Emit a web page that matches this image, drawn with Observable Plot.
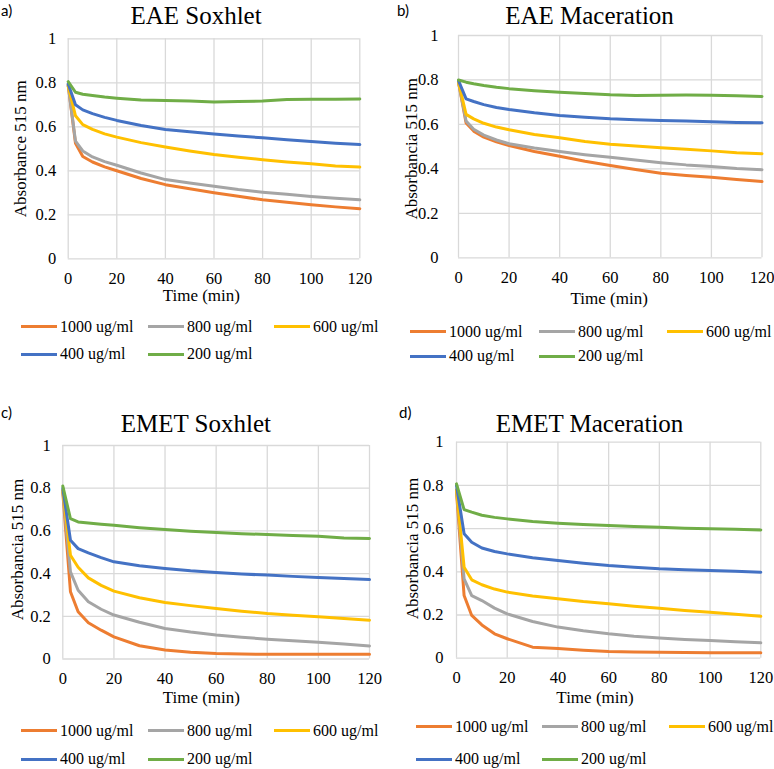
<!DOCTYPE html>
<html><head><meta charset="utf-8">
<script src="https://cdn.jsdelivr.net/npm/d3@7"></script>
<script src="https://cdn.jsdelivr.net/npm/@observablehq/plot@0.6"></script>
<style>
html,body{margin:0;padding:0;background:#fff;}
#root{position:relative;width:774px;height:769px;overflow:hidden;background:#fff;}
.panel{position:absolute;}
.panel svg{font-family:"Liberation Serif",serif;}
.panel svg text{font-family:"Liberation Serif",serif;}
.leg{position:absolute;display:flex;align-items:center;height:16px;font-family:"Liberation Serif",serif;font-size:16px;line-height:16px;color:#000;white-space:nowrap;}
.sw{display:inline-block;width:36px;height:3px;margin-right:3px;}
.tag{position:absolute;font-family:Lato,"Open Sans",sans-serif;font-size:15px;line-height:18px;color:#000;}
</style></head><body><div id="root"></div>
<script>
// ---------- data ----------
const seriesNames = ["1000 ug/ml", "800 ug/ml", "600 ug/ml", "400 ug/ml", "200 ug/ml"];
const seriesColors = ["#ED7D31", "#A5A5A5", "#FFC000", "#4472C4", "#70AD47"];
const time = [0, 3, 6, 10, 15, 20, 30, 40, 50, 60, 70, 80, 90, 100, 110, 120];
const xTicks = [0, 20, 40, 60, 80, 100, 120];
const yTicks = [0, 0.2, 0.4, 0.6, 0.8, 1];
const xLabel = "Time (min)";
const titles = ["EAE Soxhlet", "EAE Maceration", "EMET Soxhlet", "EMET Maceration"];
const tags = ["a)", "b)", "c)", "d)"];
const yLabels = ["Absorbance 515 nm", "Absorbancia 515 nm", "Absorbancia 515 nm", "Absorbancia 515 nm"];

// a) EAE Soxhlet
const eaeSox1000 = [0.79, 0.525, 0.465, 0.44, 0.418, 0.40, 0.365, 0.337, 0.318, 0.30, 0.284, 0.268, 0.257, 0.246, 0.236, 0.228];
const eaeSox800  = [0.79, 0.535, 0.49, 0.463, 0.442, 0.425, 0.39, 0.36, 0.345, 0.33, 0.315, 0.303, 0.293, 0.283, 0.275, 0.268];
const eaeSox600  = [0.785, 0.65, 0.61, 0.588, 0.568, 0.553, 0.528, 0.508, 0.49, 0.474, 0.462, 0.45, 0.44, 0.432, 0.422, 0.417];
const eaeSox400  = [0.795, 0.70, 0.677, 0.66, 0.643, 0.629, 0.606, 0.588, 0.578, 0.567, 0.558, 0.55, 0.541, 0.533, 0.525, 0.519];
const eaeSox200  = [0.805, 0.757, 0.748, 0.742, 0.735, 0.73, 0.722, 0.72, 0.717, 0.713, 0.715, 0.717, 0.724, 0.725, 0.725, 0.726];
// b) EAE Maceration
const eaeMac1000 = [0.79, 0.606, 0.57, 0.543, 0.522, 0.505, 0.478, 0.457, 0.434, 0.415, 0.397, 0.38, 0.37, 0.362, 0.352, 0.343];
const eaeMac800  = [0.79, 0.615, 0.578, 0.552, 0.53, 0.513, 0.494, 0.478, 0.464, 0.452, 0.44, 0.428, 0.418, 0.411, 0.402, 0.396];
const eaeMac600  = [0.79, 0.645, 0.625, 0.605, 0.588, 0.576, 0.555, 0.54, 0.523, 0.511, 0.503, 0.495, 0.488, 0.481, 0.473, 0.468];
const eaeMac400  = [0.797, 0.715, 0.703, 0.689, 0.676, 0.667, 0.652, 0.64, 0.632, 0.625, 0.621, 0.618, 0.615, 0.612, 0.609, 0.607];
const eaeMac200  = [0.80, 0.79, 0.783, 0.775, 0.767, 0.761, 0.752, 0.745, 0.739, 0.733, 0.73, 0.731, 0.732, 0.731, 0.729, 0.726];
// c) EMET Soxhlet
const emetSox1000 = [0.78, 0.315, 0.221, 0.17, 0.135, 0.104, 0.062, 0.042, 0.032, 0.026, 0.023, 0.022, 0.022, 0.022, 0.022, 0.022];
const emetSox800  = [0.79, 0.408, 0.322, 0.268, 0.233, 0.206, 0.172, 0.143, 0.126, 0.112, 0.102, 0.093, 0.085, 0.078, 0.07, 0.061];
const emetSox600  = [0.79, 0.486, 0.43, 0.38, 0.345, 0.318, 0.287, 0.265, 0.25, 0.237, 0.224, 0.213, 0.205, 0.198, 0.19, 0.182];
const emetSox400  = [0.80, 0.556, 0.517, 0.497, 0.475, 0.455, 0.437, 0.424, 0.413, 0.405, 0.398, 0.393, 0.387, 0.382, 0.377, 0.372];
const emetSox200  = [0.81, 0.657, 0.642, 0.637, 0.631, 0.626, 0.615, 0.606, 0.598, 0.592, 0.587, 0.583, 0.579, 0.575, 0.567, 0.564];
// d) EMET Maceration
const emetMac1000 = [0.77, 0.29, 0.198, 0.154, 0.113, 0.09, 0.051, 0.045, 0.037, 0.031, 0.029, 0.028, 0.026, 0.025, 0.025, 0.025];
const emetMac800  = [0.78, 0.367, 0.29, 0.267, 0.232, 0.205, 0.17, 0.144, 0.127, 0.113, 0.102, 0.094, 0.087, 0.082, 0.076, 0.071];
const emetMac600  = [0.78, 0.421, 0.363, 0.34, 0.32, 0.306, 0.288, 0.275, 0.262, 0.252, 0.241, 0.231, 0.221, 0.213, 0.203, 0.194];
const emetMac400  = [0.80, 0.576, 0.537, 0.51, 0.494, 0.483, 0.465, 0.452, 0.44, 0.429, 0.421, 0.414, 0.41, 0.406, 0.402, 0.398];
const emetMac200  = [0.807, 0.688, 0.676, 0.662, 0.652, 0.645, 0.633, 0.625, 0.619, 0.614, 0.61, 0.606, 0.602, 0.599, 0.597, 0.594];

const panelValues = [
  [eaeSox1000, eaeSox800, eaeSox600, eaeSox400, eaeSox200],
  [eaeMac1000, eaeMac800, eaeMac600, eaeMac400, eaeMac200],
  [emetSox1000, emetSox800, emetSox600, emetSox400, emetSox200],
  [emetMac1000, emetMac800, emetMac600, emetMac400, emetMac200]
];

// ---------- layout (absolute page px) ----------
const layout = [
  {left: 0, top: 0, w: 387, h: 310, L: 67.7, R: 359.3, T: 38.3, B: 258.3, yPad: 12,
   tag: [1, 1], title: [195.5, 15], xl: [200.8, 295.3], yl: [20.5, 148.3],
   legX: [21, 148, 274], legY: [326.7, 354]},
  {left: 387, top: 0, w: 387, h: 310, L: 458, R: 761.5, T: 35, B: 257.3, yPad: 20,
   tag: [397, 1], title: [589, 15.3], xl: [608.7, 298.3], yl: [411.5, 148.3],
   legX: [410, 539, 667], legY: [331.7, 356]},
  {left: 0, top: 385, w: 387, h: 315, L: 62.3, R: 369, T: 445, B: 658.5, yPad: 12,
   tag: [1, 403], title: [195.3, 423.7], xl: [200.8, 697.5], yl: [17.5, 549],
   legX: [21, 148, 274], legY: [730.7, 759]},
  {left: 387, top: 385, w: 387, h: 315, L: 456, R: 760.3, T: 441.7, B: 657.7, yPad: 13,
   tag: [399, 403], title: [589, 423], xl: [594.5, 697.3], yl: [412, 548],
   legX: [416, 542, 669], legY: [726.7, 759]}
];

const root = document.getElementById("root");
const serif = "Liberation Serif";

layout.forEach((p, k) => {
  const rows = [];
  seriesNames.forEach((s, i) => panelValues[k][i].forEach((v, j) => rows.push({series: s, time: time[j], abs: v})));
  const cx = (p.L + p.R) / 2, cy = (p.T + p.B) / 2;
  const chart = Plot.plot({
    width: p.w, height: p.h,
    marginLeft: p.L - p.left, marginRight: p.left + p.w - p.R,
    marginTop: p.T - p.top, marginBottom: p.top + p.h - p.B,
    style: "font-family: 'Liberation Serif', serif; font-size: 17px; color: #000; background: transparent; overflow: visible;",
    x: {domain: [0, 120]},
    y: {domain: [0, 1]},
    color: {domain: seriesNames, range: seriesColors},
    marks: [
      Plot.gridX(xTicks, {stroke: "#d9d9d9", strokeOpacity: 1, strokeWidth: 1.3}),
      Plot.gridY(yTicks, {stroke: "#d9d9d9", strokeOpacity: 1, strokeWidth: 1.3}),
      Plot.axisX(xTicks, {tickSize: 0, tickPadding: 13, label: null, tickFormat: d => String(d), fontSize: 16.5, fontFamily: serif}),
      Plot.axisY(yTicks, {tickSize: 0, tickPadding: p.yPad, label: null, tickFormat: d => String(d), fontSize: 16.5, fontFamily: serif}),
      Plot.line(rows, {x: "time", y: "abs", z: "series", stroke: "series", strokeWidth: 3, strokeLinejoin: "round", strokeLinecap: "round"}),
      Plot.text([titles[k]], {text: d => d, frameAnchor: "top", textAnchor: "middle", lineAnchor: "middle", fontSize: 25, fontFamily: serif,
        dx: p.title[0] - cx, dy: p.title[1] - p.T}),
      Plot.text([xLabel], {text: d => d, frameAnchor: "bottom", textAnchor: "middle", lineAnchor: "middle", fontSize: 17, fontFamily: serif,
        dx: p.xl[0] - cx, dy: p.xl[1] - p.B}),
      Plot.text([yLabels[k]], {text: d => d, frameAnchor: "left", textAnchor: "middle", lineAnchor: "middle", rotate: -90, fontSize: 17, fontFamily: serif,
        dx: p.yl[0] - p.L, dy: p.yl[1] - cy})
    ]
  });
  const holder = document.createElement("div");
  holder.className = "panel";
  holder.style.left = p.left + "px";
  holder.style.top = p.top + "px";
  holder.appendChild(chart);
  root.appendChild(holder);

  // panel tag
  const tg = document.createElement("div");
  tg.className = "tag";
  tg.style.left = p.tag[0] + "px";
  tg.style.top = p.tag[1] + "px";
  tg.textContent = tags[k];
  root.appendChild(tg);

  // legend
  seriesNames.forEach((s, i) => {
    const row = i < 3 ? 0 : 1, col = i < 3 ? i : i - 3;
    const item = document.createElement("div");
    item.className = "leg";
    item.style.left = p.legX[col] + "px";
    item.style.top = (p.legY[row] - 8) + "px";
    const sw = document.createElement("span");
    sw.className = "sw";
    sw.style.background = seriesColors[i];
    const tx = document.createElement("span");
    tx.textContent = s;
    item.appendChild(sw);
    item.appendChild(tx);
    root.appendChild(item);
  });
});
</script></body></html>
